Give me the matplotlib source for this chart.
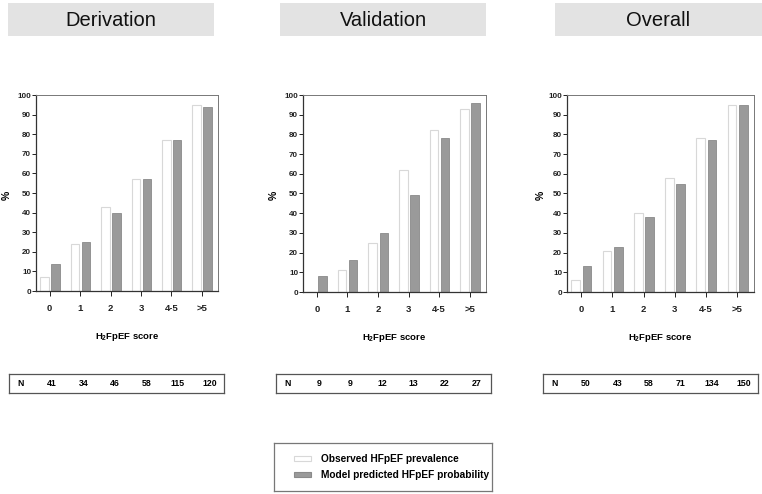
import numpy as np
import matplotlib
matplotlib.use("Agg")
import matplotlib.pyplot as plt
from matplotlib.patches import Patch

plt.rcParams['font.family'] = ['Liberation Sans', 'DejaVu Sans']
plt.rcParams['mathtext.fontset'] = 'custom'
plt.rcParams['mathtext.rm'] = 'Liberation Sans'
plt.rcParams['mathtext.bf'] = 'Liberation Sans:bold'

# Data
categories = ["0", "1", "2", "3", "4-5", ">5"]
panels = ["Derivation", "Validation", "Overall"]
observed = {
    "Derivation": [7, 24, 43, 57, 77, 95],
    "Validation": [0, 11, 25, 62, 82, 93],
    "Overall": [6, 21, 40, 58, 78, 95],
}
predicted = {
    "Derivation": [14, 25, 40, 57, 77, 94],
    "Validation": [8, 16, 30, 49, 78, 96],
    "Overall": [13, 23, 38, 55, 77, 95],
}
counts = {
    "Derivation": [41, 34, 46, 58, 115, 120],
    "Validation": [9, 9, 12, 13, 22, 27],
    "Overall": [50, 43, 58, 71, 134, 150],
}
legend_labels = ["Observed HFpEF prevalence", "Model predicted HFpEF probability"]

W, H = 762, 494
fig = plt.figure(figsize=(W / 100, H / 100), dpi=100)


def px_axes(x0, y0, x1, y1):
    # pixel box (top-left origin) -> figure axes
    return fig.add_axes([x0 / W, 1 - y1 / H, (x1 - x0) / W, (y1 - y0) / H])


# pixel layouts per panel
title_boxes = [(8, 3, 214, 36), (280, 3, 486, 36), (555, 3, 762, 36)]
plot_boxes = [(36, 95, 218, 291), (303, 95, 486, 292), (567, 95, 754, 292)]
table_boxes = [(9, 374, 224, 393), (276, 374, 491, 393), (543, 374, 758, 393)]
ylabel_x = [7, 274, 541]

obs_color = "white"
obs_edge = "#d8d8d8"
pred_color = "#9a9a9a"
pred_edge = "#8a8a8a"

x = np.arange(len(categories))
bw = 0.28

for i, name in enumerate(panels):
    # title box
    tb = px_axes(*title_boxes[i])
    tb.set_facecolor("#e3e3e3")
    tb.set_xticks([])
    tb.set_yticks([])
    for s in tb.spines.values():
        s.set_visible(False)
    tb.text(0.5, 0.48, name, ha="center", va="center", fontsize=14.5,
            color="#111111", transform=tb.transAxes)

    # bar chart
    ax = px_axes(*plot_boxes[i])
    ax.bar(x - 0.17, observed[name], bw, color=obs_color, edgecolor=obs_edge,
           linewidth=0.8, zorder=2)
    ax.bar(x + 0.19, predicted[name], bw, color=pred_color, edgecolor=pred_edge,
           linewidth=0.6, zorder=2)
    ax.set_xlim(-0.45, 5.53)
    ax.set_ylim(0, 100)
    ax.set_yticks(np.arange(0, 101, 10))
    ax.set_xticks(x)
    ax.set_xticklabels(categories)
    ax.tick_params(axis="y", labelsize=5.8, length=3, width=0.7, pad=0.5,
                   colors="#222222")
    ax.tick_params(axis="x", labelsize=6.8, length=3.5, width=0.7, pad=6,
                   colors="#222222")
    for lab in ax.get_xticklabels() + ax.get_yticklabels():
        lab.set_fontweight("bold")
    for side in ["left", "bottom"]:
        ax.spines[side].set_color("#333333")
        ax.spines[side].set_linewidth(0.9)
    for side in ["top", "right"]:
        ax.spines[side].set_color("#777777")
        ax.spines[side].set_linewidth(0.7)
    ax.set_xlabel(r"H$_{\mathbf{2}}$FpEF score", fontsize=6.8, fontweight="bold",
                  labelpad=13)
    fig.text(ylabel_x[i] / W, 1 - 195 / H, "%", rotation=90, fontsize=7.5,
             fontweight="bold", ha="center", va="center")

    # N table
    tab = px_axes(*table_boxes[i])
    tab.set_xticks([])
    tab.set_yticks([])
    for s in tab.spines.values():
        s.set_color("#555555")
        s.set_linewidth(0.9)
    tab.text(12 / 215, 0.5, "N", ha="center", va="center", fontsize=6.3,
             fontweight="bold", transform=tab.transAxes)
    for j, n in enumerate(counts[name]):
        tab.text((43 + 31.5 * j) / 215, 0.5, str(n), ha="center", va="center",
                 fontsize=6.3, fontweight="bold", transform=tab.transAxes)

# legend box
lg = px_axes(274, 443, 492, 491)
lg.set_xticks([])
lg.set_yticks([])
for s in lg.spines.values():
    s.set_color("#777777")
    s.set_linewidth(0.9)
handles = [
    Patch(facecolor=obs_color, edgecolor=obs_edge, linewidth=0.8),
    Patch(facecolor=pred_color, edgecolor=pred_edge, linewidth=0.8),
]
leg = lg.legend(handles, legend_labels, loc="center left",
                bbox_to_anchor=(20 / 218, 0.5), frameon=False,
                prop={"size": 7.3, "weight": "bold"},
                handlelength=1.7, handleheight=0.45, handletextpad=0.95,
                labelspacing=0.6, borderpad=0, borderaxespad=0)

fig.savefig("out.png", dpi=100)
